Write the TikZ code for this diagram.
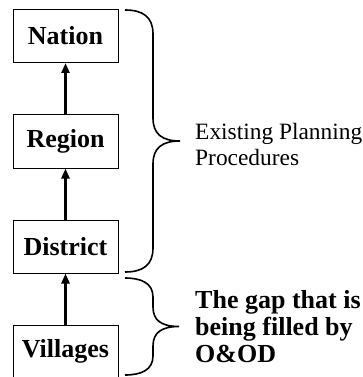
\documentclass[tikz,border=0pt]{standalone}
\usepackage{fontspec}
\setmainfont{Liberation Serif}
\usetikzlibrary{arrows.meta}

\begin{document}
\begin{tikzpicture}[x=1pt,y=-1pt,
	level/.style={draw,line width=1pt,minimum width=105pt,minimum height=53pt,inner sep=0pt,font=\fontsize{26}{28}\selectfont\bfseries},
	up/.style={line width=2.5pt,-{Triangle[width=8pt,length=10pt]}},
	curly/.style={line width=1.6pt},
	side/.style={anchor=west,inner sep=0pt,align=left}]
	\useasboundingbox (0,0) rectangle (362,377);
	\clip (0,0) rectangle (362,377);

	\node[level] (nation) at (65.5,36) {Nation};
	\node[level] (region) at (65.5,141.5) {Region};
	\node[level] (district) at (65.5,246.5) {District};
	\node[level] (villages) at (65.5,351.5) {Villages};

	\draw[up] (region) -- (nation);
	\draw[up] (district) -- (region);
	\draw[up] (villages) -- (district);

	\draw[curly] (125,10) .. controls (143,10) and (153,17) .. (153,34) -- (153,118)
		.. controls (153,134) and (162,141) .. (180,141)
		.. controls (162,141) and (153,148) .. (153,164) -- (153,248)
		.. controls (153,265) and (143,272) .. (125,272);
	\draw[curly] (125,278) .. controls (141,278) and (153,283) .. (153,297) -- (153,307)
		.. controls (153,320) and (161,326.5) .. (179,326.5)
		.. controls (161,326.5) and (153,333) .. (153,346) -- (153,356)
		.. controls (153,370) and (141,375) .. (125,375);

	\node[side,font=\fontsize{23.4}{26}\selectfont] (existing) at (195,144.5) {Existing Planning\\Procedures};
	\node[side,font=\fontsize{26}{27}\selectfont\bfseries] (gap) at (195,326.5) {The gap that is\\being filled by\\O\&OD};
\end{tikzpicture}
\end{document}
